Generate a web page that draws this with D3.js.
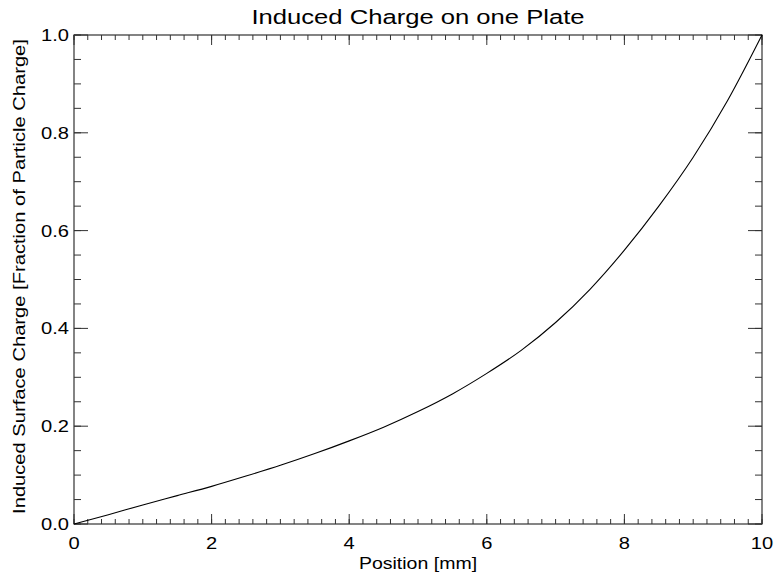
<!DOCTYPE html>
<html>
<head>
<meta charset="utf-8">
<script src="https://cdn.jsdelivr.net/npm/d3@7"></script>
<style>
  body { margin: 0; background: #fff; }
  text { font-family: "Liberation Sans", Arial, sans-serif; fill: #000; }
</style>
</head>
<body>
<div id="container"></div>
<script>
// position along the gap [mm]
const positions = [0, 0.5, 1, 1.5, 2, 2.5, 3, 3.5, 4, 4.5, 5, 5.5, 6, 6.5, 7, 7.5, 8, 8.5, 9, 9.5, 10];
// induced charge as fraction of particle charge
const charges = [0, 0.019, 0.039, 0.058, 0.077, 0.098, 0.12, 0.144, 0.170, 0.198, 0.230, 0.266, 0.308, 0.355, 0.412, 0.480, 0.560, 0.650, 0.750, 0.866, 1.0];
const xTicks = [0, 2, 4, 6, 8, 10];
const yTicks = [0, 0.2, 0.4, 0.6, 0.8, 1.0];

const W = 779, H = 577;
const margin = { top: 35, right: 17, bottom: 53, left: 74 };
const width = W - margin.left - margin.right;
const height = H - margin.top - margin.bottom;
const stretch = 1.22; // text in the original is wider than it is tall

const svg = d3.select("#container").append("svg")
    .attr("width", W)
    .attr("height", H);

const g = svg.append("g")
    .attr("transform", `translate(${margin.left},${margin.top})`);

const x = d3.scaleLinear().domain([0, 10]).range([0, width]);
const y = d3.scaleLinear().domain([0, 1]).range([height, 0]);

const axisColor = "#333";
const xMinor = d3.range(0, 10.0001, 0.2);
const yMinor = d3.range(0, 1.0001, 0.05);

// minor + major ticks on all four sides
function tickMarks(sel, axis, ticks, len) {
    sel.selectAll(null).data(ticks).enter().append("line")
        .attr("stroke", axisColor)
        .attr("stroke-width", 1)
        .attr("x1", d => axis === "x" ? x(d) : 0)
        .attr("x2", d => axis === "x" ? x(d) : len)
        .attr("y1", d => axis === "x" ? 0 : y(d))
        .attr("y2", d => axis === "x" ? len : y(d));
}

const bottomG = g.append("g").attr("transform", `translate(0,${height})`);
tickMarks(bottomG, "x", xMinor, -5);
tickMarks(bottomG, "x", xTicks, -10);
const topG = g.append("g");
tickMarks(topG, "x", xMinor, 5);
tickMarks(topG, "x", xTicks, 10);
const leftG = g.append("g");
tickMarks(leftG, "y", yMinor, 7);
tickMarks(leftG, "y", yTicks, 14);
const rightG = g.append("g").attr("transform", `translate(${width},0)`);
tickMarks(rightG, "y", yMinor, -7);
tickMarks(rightG, "y", yTicks, -14);

g.append("rect")
    .attr("width", width)
    .attr("height", height)
    .attr("fill", "none")
    .attr("stroke", axisColor)
    .attr("stroke-width", 1.2);

// tick labels
g.selectAll(".xlab").data(xTicks).enter().append("text")
    .attr("transform", d => `translate(${x(d)},${height + 25}) scale(${stretch},1)`)
    .attr("text-anchor", "middle")
    .style("font-size", "16.5px")
    .text(d => d);

g.selectAll(".ylab").data(yTicks).enter().append("text")
    .attr("transform", d => `translate(-5,${y(d) + 6}) scale(${stretch},1)`)
    .attr("text-anchor", "end")
    .style("font-size", "16.5px")
    .text(d => d.toFixed(1));

// curve
const line = d3.line()
    .x((d, i) => x(positions[i]))
    .y(d => y(d))
    .curve(d3.curveMonotoneX);

g.append("path")
    .datum(charges)
    .attr("fill", "none")
    .attr("stroke", "#000")
    .attr("stroke-width", 1.1)
    .attr("d", line);

// titles
svg.append("text")
    .attr("transform", `translate(${margin.left + width / 2},24) scale(${stretch + 0.03},1)`)
    .attr("text-anchor", "middle")
    .style("font-size", "20.5px")
    .text("Induced Charge on one Plate");

svg.append("text")
    .attr("transform", `translate(${margin.left + width / 2},569) scale(${stretch},1)`)
    .attr("text-anchor", "middle")
    .style("font-size", "16px")
    .text("Position [mm]");

svg.append("text")
    .attr("transform", `translate(25,${margin.top + height / 2 - 3}) rotate(-90) scale(${stretch + 0.04},1)`)
    .attr("text-anchor", "middle")
    .style("font-size", "16px")
    .text("Induced Surface Charge [Fraction of Particle Charge]");
</script>
</body>
</html>
